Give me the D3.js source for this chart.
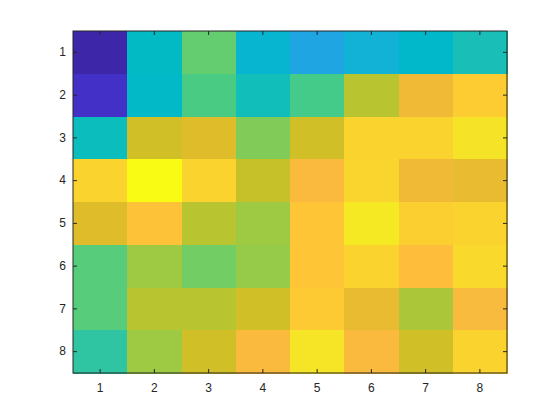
<!DOCTYPE html>
<html>
<head>
<meta charset="utf-8">
<script src="https://cdn.jsdelivr.net/npm/d3@7"></script>
<style>
  body { margin: 0; background: #fff; }
  text { font-family: "Liberation Sans", Arial, sans-serif; }
</style>
</head>
<body>
<div id="chart"></div>
<script>
// row / column labels
const rows = [1, 2, 3, 4, 5, 6, 7, 8];
const cols = [1, 2, 3, 4, 5, 6, 7, 8];

// cell values, one array per row
const row1 = [0, 30, 40, 28, 24, 27, 29, 32];
const row2 = [2.5, 29.5, 38, 31.5, 37.5, 46, 51, 55.5];
const row3 = [31, 48, 49.3, 42, 48, 56.5, 56.5, 59];
const row4 = [56.5, 63, 56.5, 47.2, 52.1, 56.8, 51, 50.3];
const row5 = [49.3, 53.7, 46, 44, 54.3, 60, 56, 56.5];
const row6 = [39, 44, 41, 43.5, 54.3, 56.5, 53, 57.5];
const row7 = [39, 46, 46, 48, 55.2, 50.3, 45, 52.2];
const row8 = [34.5, 44, 48, 52.1, 59.3, 52.1, 48, 56.5];
const values = [row1, row2, row3, row4, row5, row6, row7, row8];

// parula colormap (64 entries)
const parula = [
  [0.2422,0.1504,0.6603],[0.2504,0.1650,0.7076],[0.2578,0.1818,0.7511],[0.2647,0.1978,0.7952],
  [0.2706,0.2147,0.8364],[0.2751,0.2342,0.8710],[0.2783,0.2559,0.8991],[0.2803,0.2782,0.9221],
  [0.2813,0.3006,0.9414],[0.2810,0.3228,0.9579],[0.2795,0.3447,0.9717],[0.2760,0.3667,0.9829],
  [0.2699,0.3892,0.9906],[0.2602,0.4123,0.9952],[0.2440,0.4358,0.9988],[0.2206,0.4603,0.9973],
  [0.1963,0.4847,0.9892],[0.1834,0.5074,0.9798],[0.1786,0.5289,0.9682],[0.1764,0.5499,0.9520],
  [0.1687,0.5703,0.9359],[0.1540,0.5902,0.9218],[0.1460,0.6091,0.9079],[0.1380,0.6276,0.8973],
  [0.1248,0.6459,0.8883],[0.1113,0.6635,0.8763],[0.0952,0.6798,0.8598],[0.0689,0.6948,0.8394],
  [0.0297,0.7082,0.8163],[0.0036,0.7203,0.7917],[0.0067,0.7312,0.7660],[0.0433,0.7411,0.7394],
  [0.0964,0.7500,0.7120],[0.1408,0.7584,0.6842],[0.1717,0.7670,0.6554],[0.1938,0.7758,0.6251],
  [0.2161,0.7843,0.5923],[0.2470,0.7918,0.5567],[0.2906,0.7973,0.5188],[0.3406,0.8008,0.4789],
  [0.3909,0.8029,0.4354],[0.4456,0.8024,0.3909],[0.5044,0.7993,0.3480],[0.5616,0.7942,0.3045],
  [0.6174,0.7876,0.2612],[0.6720,0.7793,0.2227],[0.7242,0.7698,0.1910],[0.7738,0.7598,0.1646],
  [0.8203,0.7498,0.1535],[0.8634,0.7406,0.1596],[0.9035,0.7330,0.1774],[0.9393,0.7288,0.2100],
  [0.9728,0.7298,0.2394],[0.9956,0.7434,0.2371],[0.9970,0.7659,0.2199],[0.9952,0.7893,0.2028],
  [0.9892,0.8136,0.1885],[0.9786,0.8386,0.1766],[0.9676,0.8639,0.1643],[0.9610,0.8890,0.1537],
  [0.9597,0.9135,0.1423],[0.9628,0.9373,0.1265],[0.9691,0.9606,0.1064],[0.9769,0.9839,0.0805]
].map(c => d3.rgb(c[0] * 255, c[1] * 255, c[2] * 255).toString());

const width = 560, height = 420;
const margin = { left: 73, right: 53, top: 31, bottom: 47 };

const svg = d3.select('#chart').append('svg')
  .attr('width', width)
  .attr('height', height);

const x = d3.scaleBand().domain(cols).range([margin.left, width - margin.right]).padding(0);
const y = d3.scaleBand().domain(rows).range([margin.top, height - margin.bottom]).padding(0);

// map value range onto the 64 colours
const ext = d3.extent(values.flat());
const colorScale = d3.scaleLinear()
  .domain(parula.map((c, i) => ext[0] + (ext[1] - ext[0]) * i / (parula.length - 1)))
  .range(parula)
  .clamp(true);

const cells = [];
values.forEach((r, i) => r.forEach((v, j) => cells.push({ row: rows[i], col: cols[j], value: v })));

svg.append('g').selectAll('rect')
  .data(cells)
  .enter()
  .append('rect')
  .attr('x', d => x(d.col))
  .attr('y', d => y(d.row))
  .attr('width', x.bandwidth() + 0.5)
  .attr('height', y.bandwidth() + 0.5)
  .attr('fill', d => colorScale(d.value))
  .attr('shape-rendering', 'crispEdges');

const axisColor = '#262626';
const tickLen = 4;

// bottom axis, ticks pointing in
const gx = svg.append('g')
  .attr('transform', `translate(0,${height - margin.bottom})`)
  .call(d3.axisBottom(x).tickSizeInner(-tickLen).tickSizeOuter(0).tickPadding(10));

// left axis
const gy = svg.append('g')
  .attr('transform', `translate(${margin.left},0)`)
  .call(d3.axisLeft(y).tickSizeInner(-tickLen).tickSizeOuter(0).tickPadding(7));

// mirrored ticks on top and right
const gt = svg.append('g')
  .attr('transform', `translate(0,${margin.top})`)
  .call(d3.axisTop(x).tickSizeInner(-tickLen).tickSizeOuter(0).tickFormat(''));

const gr = svg.append('g')
  .attr('transform', `translate(${width - margin.right},0)`)
  .call(d3.axisRight(y).tickSizeInner(-tickLen).tickSizeOuter(0).tickFormat(''));

[gx, gy, gt, gr].forEach(g => {
  g.select('.domain').remove();
  g.selectAll('line').attr('stroke', axisColor).attr('stroke-width', 1);
  g.selectAll('text').attr('fill', axisColor).style('font-size', '12px')
    .style('font-family', '"Liberation Sans", Arial, sans-serif');
});

// box around the axes
svg.append('rect')
  .attr('x', margin.left)
  .attr('y', margin.top)
  .attr('width', width - margin.left - margin.right)
  .attr('height', height - margin.top - margin.bottom)
  .attr('fill', 'none')
  .attr('stroke', axisColor)
  .attr('stroke-width', 1);
</script>
</body>
</html>
